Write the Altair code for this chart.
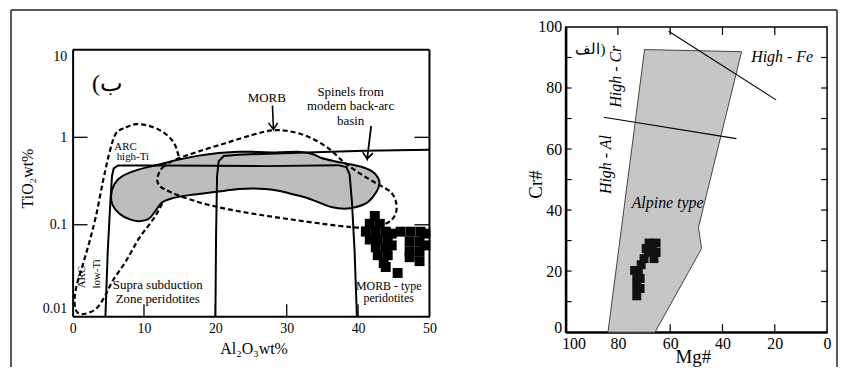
import altair as alt
import pandas as pd

FONT = "Liberation Serif, Times New Roman, serif"

# ---------------- Left panel: TiO2 vs Al2O3 ----------------
al_ticks = [0, 10, 20, 30, 40, 50]
ti_ticks = [0.01, 0.1, 1, 10]
al_inner_ticks = [10, 20, 30, 40]
ti_inner_ticks = [0.1, 1]

grey_al = [5.39, 5.85, 7.01, 9.33, 12.12, 14.90, 17.69, 20.47, 23.26, 26.05, 28.83, 31.62, 33.47, 34.87,
           36.72, 39.04, 40.90, 42.30, 42.99, 42.53, 41.37, 39.74, 38.12, 36.26, 34.40, 32.55, 30.69,
           28.83, 26.97, 25.12, 23.26, 21.40, 19.55, 17.69, 15.83, 13.97, 12.58, 11.65, 10.72, 9.33,
           7.94, 6.55, 5.62]
grey_ti = [0.2154, 0.2913, 0.3614, 0.4295, 0.4887, 0.5565, 0.6170, 0.6610, 0.6843, 0.6784, 0.6726,
           0.6843, 0.6499, 0.5808, 0.5328, 0.4887, 0.4484, 0.3873, 0.3042, 0.2349, 0.1813, 0.1593,
           0.1526, 0.1593, 0.1813, 0.2064, 0.2250, 0.2452, 0.2561, 0.2605, 0.2561, 0.2452, 0.2349,
           0.2250, 0.2154, 0.2011, 0.1813, 0.1462, 0.1178, 0.1100, 0.1158, 0.1341, 0.1663]

morb_al = [11.89, 12.58, 14.44, 17.69, 21.40, 25.12, 27.90, 30.22, 33.01, 35.80, 38.12, 40.44, 42.76,
           44.62, 45.36, 45.17, 43.92, 41.37, 39.04, 35.33, 30.69, 26.05, 21.87, 18.15, 14.90, 12.81,
           12.02]
morb_ti = [0.3462, 0.4484, 0.5565, 0.6902, 0.8564, 1.062, 1.198, 1.178, 1.017, 0.7523, 0.5104, 0.3773,
           0.2913, 0.2349, 0.1737, 0.1284, 0.1035, 0.0933, 0.0941, 0.1017, 0.1148, 0.1306, 0.1500,
           0.1767, 0.2154, 0.2561, 0.2913]

arc_al = [6.08, 7.47, 8.87, 10.72, 12.58, 13.97, 14.67, 14.81, 13.51, 11.65, 9.33, 7.47, 5.62, 4.46,
          3.30, 1.90, 0.74, 0.28, 0.51, 1.44, 2.37, 3.30, 4.22, 5.15]
arc_ti = [1.109, 1.295, 1.412, 1.352, 1.158, 0.9174, 0.6902, 0.5104, 0.2561, 0.1284, 0.0702, 0.0384,
          0.0229, 0.01487, 0.01100, 0.00966, 0.00983, 0.01252, 0.01926, 0.0352, 0.0644, 0.1284,
          0.3042, 0.6610]

boxa_al = [4.60, 4.92, 5.29, 5.52, 5.76, 6.36, 13.05, 26.97, 37.19, 38.35, 38.81, 39.14, 39.51, 39.83]
boxa_ti = [0.009, 0.0497, 0.1813, 0.3614, 0.4406, 0.4764, 0.4764, 0.4682, 0.4805, 0.4562, 0.3773,
           0.1813, 0.0497, 0.009]

boxb_al = [20.01, 20.10, 20.24, 20.47, 21.17, 23.26, 31.62, 40.90, 50.0]
boxb_ti = [0.009, 0.0766, 0.3614, 0.5328, 0.6117, 0.6332, 0.6668, 0.7023, 0.7208]

arrow_morb_al = [28.00, 28.14, 27.44, 28.14, 28.74]
arrow_morb_ti = [2.308, 1.230, 1.462, 1.230, 1.462]
arrow_sp_al = [41.83, 41.27, 40.67, 41.27, 42.06]
arrow_sp_ti = [1.341, 0.5661, 0.6726, 0.5661, 0.6610]

blob_al = [42.34, 41.64, 43.04, 41.09, 42.48, 43.87, 44.71, 41.64, 42.76, 44.15, 42.48, 43.87, 44.71,
           42.76, 44.15, 43.59, 43.87, 45.54, 45.96, 47.36, 48.75, 49.44, 47.22, 47.22, 48.61, 48.61,
           48.61, 49.44, 47.22]
blob_ti = [0.126, 0.1026, 0.1026, 0.0834, 0.0834, 0.0834, 0.0792, 0.0678, 0.0678, 0.0678, 0.0552,
           0.0552, 0.0581, 0.0449, 0.0449, 0.0365, 0.0329, 0.0281, 0.0834, 0.0834, 0.0834, 0.0792,
           0.0644, 0.0498, 0.0644, 0.0498, 0.0384, 0.0581, 0.0426]

lbl_c_text = ["MORB", "Spinels from", "modern back-arc", "basin", "Supra subduction", "Zone peridotites"]
lbl_c_al = [27.21, 38.95, 38.95, 38.95, 11.93, 11.93]
lbl_c_ti = [2.797, 3.332, 2.250, 1.548, 0.0205, 0.01420]
lbl_m_text = ["MORB - type", "peridotites"]
lbl_m_al = [44.29, 44.29]
lbl_m_ti = [0.0200, 0.01440]
lbl_l_text = ["ARC", "high-Ti"]
lbl_l_al = [5.85, 6.17]
lbl_l_ti = [0.776, 0.588]
lbl_r_text = ["ARC", "low-Ti"]
lbl_r_al = [1.35, 3.39]
lbl_r_ti = [0.0252, 0.0275]
tag_left = ["(ب"]
tag_left_al = [4.87]
tag_left_ti = [4.11]

# ---------------- Right panel: Cr# vs Mg# ----------------
mg_ticks = [100, 80, 60, 40, 20, 0]
cr_ticks = [0, 20, 40, 60, 80, 100]
mg_inner_ticks = [80, 60, 40, 20]
cr_inner_ticks = [10, 20, 30, 40, 50, 60, 70, 80, 90]

alp_mg = [83.8, 69.8, 32.7, 49.2, 48.0, 65.8]
alp_cr = [0, 92.6, 91.9, 34.3, 27.4, 0]
fe_mg = [60.6, 19.5]
fe_cr = [98.6, 76.1]
al_mg = [85.4, 34.7]
al_cr = [70.4, 63.4]
rblob_mg = [72.8, 72.8, 72.8, 72.2, 71.1, 70.0, 68.4, 66.9, 65.4, 68.1, 69.2, 65.4, 66.2, 71.5, 73.6, 71.5]
rblob_cr = [11.9, 14.7, 17.3, 19.9, 22.1, 24.1, 26.1, 27.7, 29.2, 29.2, 27.4, 26.1, 24.1, 17.6, 20.2, 14.3]
rlbl_text = ["High - Fe", "Alpine type"]
rlbl_mg = [17.2, 61.0]
rlbl_cr = [90.2, 42.4]
rrot_text = ["High - Cr", "High - Al"]
rrot_mg = [80.6, 84.4]
rrot_cr = [83.7, 54.9]
tag_right = ["الف)"]
tag_right_mg = [90.5]
tag_right_cr = [92.8]

# layout sizes (pixels)
L_W, L_H, L_TOP = 359, 291, 23     # left view starts 23px above its plotting frame
R_W, R_H = 263, 307


def pts(xs, ys, extra=None):
    d = {"x": xs, "y": ys, "i": list(range(len(xs)))}
    if extra is not None:
        d["t"] = extra
    return pd.DataFrame(d)


one = pd.DataFrame({"k": [0]})

# ---- left encodings ----
LX = alt.X("x:Q", title="Al₂O₃wt%",
           scale=alt.Scale(domain=[0, 50], nice=False, zero=False),
           axis=alt.Axis(values=al_ticks, labelFontSize=14, labelPadding=5, labelFlush=False,
                         domainWidth=2, titleFontSize=16, titleX=182, titleY=32,
                         titleBaseline="middle"))
LY = alt.Y("y:Q", title="TiO₂wt%",
           scale=alt.Scale(type="log", domain=[0.009, 10], nice=False, range=[L_H, L_TOP]),
           axis=alt.Axis(values=ti_ticks, labelFontSize=14, labelPadding=6, domainWidth=2,
                         labelExpr="datum.value >= 10 ? '10' : datum.value >= 1 ? '1' : datum.value >= 0.1 ? '0.1' : '0.01'",
                         labelBaseline={"condition": [{"test": "datum.value >= 10", "value": "top"},
                                                      {"test": "datum.value <= 0.01", "value": "alphabetic"}],
                                        "value": "middle"},
                         titleFontSize=16, titleX=-45, titleY=152, titleBaseline="middle"))

tick_style = dict(color="black", strokeWidth=1.3)
l_ticks_left = alt.Chart(pd.DataFrame({"y": ti_inner_ticks})).mark_rule(**tick_style).encode(
    y=LY, x=alt.value(0), x2=alt.value(15))
l_ticks_right = alt.Chart(pd.DataFrame({"y": ti_inner_ticks})).mark_rule(**tick_style).encode(
    y=LY, x=alt.value(L_W - 15), x2=alt.value(L_W))
l_ticks_bot = alt.Chart(pd.DataFrame({"x": al_inner_ticks})).mark_rule(**tick_style).encode(
    x=LX, y=alt.value(L_H), y2=alt.value(L_H - 12))


def lpath(xs, ys, **mk):
    return alt.Chart(pts(xs, ys)).mark_line(**mk).encode(x=LX, y=LY, order="i:Q")


l_arc = lpath(arc_al, arc_ti, interpolate="cardinal-closed", stroke="black", strokeWidth=2.2,
              strokeDash=[5, 3])
l_grey = lpath(grey_al, grey_ti, interpolate="cardinal-closed", fill="#bdbdbd", stroke="black",
               strokeWidth=2)
l_morb = lpath(morb_al, morb_ti, interpolate="cardinal-closed", stroke="black", strokeWidth=2.2,
               strokeDash=[5, 3])
l_boxa = lpath(boxa_al, boxa_ti, interpolate="linear", stroke="black", strokeWidth=2)
l_boxb = lpath(boxb_al, boxb_ti, interpolate="linear", stroke="black", strokeWidth=2)
l_arr1 = lpath(arrow_morb_al, arrow_morb_ti, interpolate="linear", stroke="black", strokeWidth=1.6)
l_arr2 = lpath(arrow_sp_al, arrow_sp_ti, interpolate="linear", stroke="black", strokeWidth=1.8)
l_blob = alt.Chart(pts(blob_al, blob_ti)).mark_square(size=100, color="black", opacity=1).encode(
    x=LX, y=LY)

l_txt_c = alt.Chart(pts(lbl_c_al, lbl_c_ti, lbl_c_text)).mark_text(
    font=FONT, fontSize=13, color="black", align="center", baseline="middle").encode(x=LX, y=LY, text="t:N")
l_txt_m = alt.Chart(pts(lbl_m_al, lbl_m_ti, lbl_m_text)).mark_text(
    font=FONT, fontSize=12, color="black", align="center", baseline="middle").encode(x=LX, y=LY, text="t:N")
l_txt_l = alt.Chart(pts(lbl_l_al, lbl_l_ti, lbl_l_text)).mark_text(
    font=FONT, fontSize=11, color="black", align="left", baseline="middle").encode(x=LX, y=LY, text="t:N")
l_txt_r = alt.Chart(pts(lbl_r_al, lbl_r_ti, lbl_r_text)).mark_text(
    font=FONT, fontSize=11, color="black", align="center", baseline="middle", angle=270).encode(
    x=LX, y=LY, text="t:N")
l_tag = alt.Chart(pts(tag_left_al, tag_left_ti, tag_left)).mark_text(
    font=FONT, fontSize=24, color="black", align="center", baseline="middle").encode(x=LX, y=LY, text="t:N")

# plot box (top and right edges of the left plot)
l_box_top = alt.Chart(one).mark_rule(color="black", strokeWidth=2).encode(
    x=alt.value(0), x2=alt.value(L_W), y=alt.value(L_TOP))
l_box_right = alt.Chart(one).mark_rule(color="black", strokeWidth=2).encode(
    x=alt.value(L_W), y=alt.value(L_TOP), y2=alt.value(L_H))

# outer figure frame
frame_style = dict(color="#222", strokeWidth=1.5)
f_left = alt.Chart(one).mark_rule(**frame_style).encode(
    x=alt.value(-62), y=alt.value(-17), y2=alt.value(342))
f_top = alt.Chart(one).mark_rule(**frame_style).encode(
    x=alt.value(-62), x2=alt.value(769), y=alt.value(-17))
f_right = alt.Chart(one).mark_rule(**frame_style).encode(
    x=alt.value(769), y=alt.value(-17), y2=alt.value(342))

left = alt.layer(
    l_ticks_left, l_ticks_right, l_ticks_bot, l_arc, l_grey, l_morb, l_boxa, l_boxb, l_arr1, l_arr2,
    l_blob, l_txt_c, l_txt_m, l_txt_l, l_txt_r, l_tag, l_box_top, l_box_right, f_left, f_top, f_right
).properties(width=L_W, height=L_H)

# ---- right encodings ----
RX = alt.X("x:Q", title="Mg#",
           scale=alt.Scale(domain=[100, 0], nice=False, zero=False),
           axis=alt.Axis(values=mg_ticks, labelFontSize=16, labelPadding=3, labelFlush=False,
                         labelOffset={"condition": {"test": "datum.value >= 100", "value": 8},
                                      "value": 0},
                         domainWidth=2.5, titleFontSize=19, titleX=128, titleY=25,
                         titleBaseline="middle"))
RY = alt.Y("y:Q", title="Cr#",
           scale=alt.Scale(domain=[0, 100], nice=False),
           axis=alt.Axis(values=cr_ticks, labelFontSize=16, labelPadding=4, domainWidth=2.5,
                         labelBaseline={"condition": {"test": "datum.value <= 0", "value": "alphabetic"},
                                        "value": "middle"},
                         titleFontSize=19, titleX=-30, titleY=158, titleBaseline="middle"))

rtick_style = dict(color="black", strokeWidth=1.2)
r_ticks_left = alt.Chart(pd.DataFrame({"y": cr_inner_ticks})).mark_rule(**rtick_style).encode(
    y=RY, x=alt.value(0), x2=alt.value(6))
r_ticks_right = alt.Chart(pd.DataFrame({"y": cr_inner_ticks})).mark_rule(**rtick_style).encode(
    y=RY, x=alt.value(R_W - 6), x2=alt.value(R_W))
r_ticks_bot = alt.Chart(pd.DataFrame({"x": mg_inner_ticks})).mark_rule(**rtick_style).encode(
    x=RX, y=alt.value(R_H), y2=alt.value(R_H - 8))
r_ticks_top = alt.Chart(pd.DataFrame({"x": mg_inner_ticks})).mark_rule(**rtick_style).encode(
    x=RX, y=alt.value(0), y2=alt.value(8))


def rpath(xs, ys, **mk):
    return alt.Chart(pts(xs, ys)).mark_line(**mk).encode(x=RX, y=RY, order="i:Q")


r_poly = rpath(alp_mg, alp_cr, interpolate="linear-closed", fill="#c6c6c6", stroke="#444", strokeWidth=1)
r_fe = rpath(fe_mg, fe_cr, stroke="black", strokeWidth=1.1)
r_al = rpath(al_mg, al_cr, stroke="black", strokeWidth=1.1)
r_blob = alt.Chart(pts(rblob_mg, rblob_cr)).mark_square(size=81, color="#111", opacity=1).encode(
    x=RX, y=RY)
r_txt = alt.Chart(pts(rlbl_mg, rlbl_cr, rlbl_text)).mark_text(
    font=FONT, fontSize=16, fontStyle="italic", color="black", align="center", baseline="middle").encode(
    x=RX, y=RY, text="t:N")
r_rot = alt.Chart(pts(rrot_mg, rrot_cr, rrot_text)).mark_text(
    font=FONT, fontSize=16, fontStyle="italic", color="black", align="center", baseline="middle",
    angle=270).encode(x=RX, y=RY, text="t:N")
r_tag = alt.Chart(pts(tag_right_mg, tag_right_cr, tag_right)).mark_text(
    font=FONT, fontSize=15, color="black", align="center", baseline="middle").encode(x=RX, y=RY, text="t:N")

right = alt.layer(
    r_ticks_left, r_ticks_right, r_ticks_bot, r_ticks_top, r_poly, r_fe, r_al, r_blob, r_txt, r_rot,
    r_tag
).properties(width=R_W, height=R_H, view=alt.ViewBackground(stroke="black", strokeWidth=1.5))

chart = alt.hconcat(left, right, spacing=137, bounds="flush").properties(
    padding={"left": 2, "top": 0, "right": 0, "bottom": 0},
    background="white",
).configure_axis(
    labelFont=FONT, titleFont=FONT, labelColor="black", titleColor="black", domainColor="black",
    titleFontWeight="normal", grid=False, ticks=False,
).configure_view(stroke=None)

chart.save("out.html", embed_options={"renderer": "svg", "actions": False})
